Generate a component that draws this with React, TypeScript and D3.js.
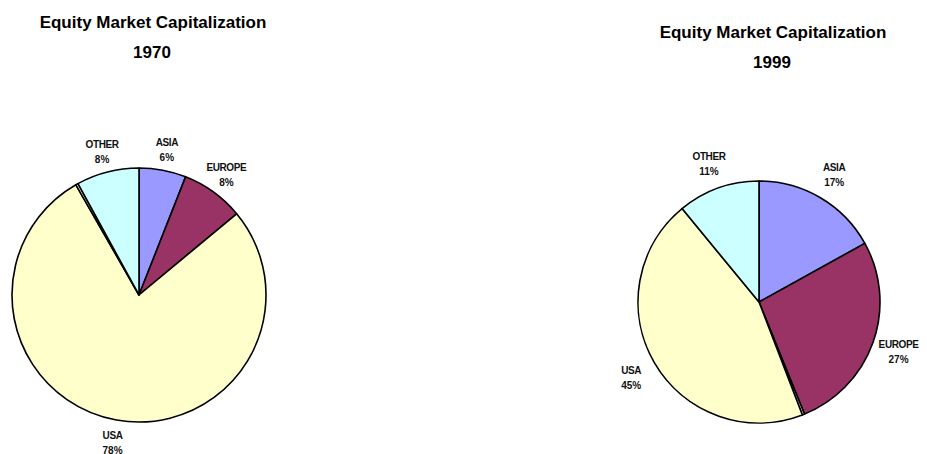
import React, { useEffect, useRef } from "react";
import * as d3 from "d3";

// slices clockwise from 12 o'clock
const labels1970 = ["ASIA", "EUROPE", "USA", "", "OTHER"];
const values1970 = [6, 8, 78, 0.3, 8];
const colors1970 = ["#9999FF", "#993366", "#FFFFCC", "#FFFFFF", "#CCFFFF"];

const labels1999 = ["ASIA", "EUROPE", "", "USA", "OTHER"];
const values1999 = [17, 27, 0.3, 45, 11];
const colors1999 = ["#9999FF", "#993366", "#FFFFFF", "#FFFFCC", "#CCFFFF"];

const titles = ["Equity Market Capitalization", "Equity Market Capitalization"];
const years = ["1970", "1999"];

export default function App() {
  const svgRef = useRef<SVGSVGElement>(null);

  useEffect(() => {
    const w = 927;
    const h = 454;
    const svg = d3.select(svgRef.current)
      .attr("width", w)
      .attr("height", h)
      .style("font-family", "'Liberation Sans', Arial, sans-serif");
    svg.selectAll("*").remove();

    const charts = [
      { labels: labels1970, values: values1970, colors: colors1970, cx: 139, cy: 295, r: 127, lr: 149, tx: 153, ty: 28, title: titles[0], year: years[0] },
      { labels: labels1999, values: values1999, colors: colors1999, cx: 759, cy: 302, r: 121, lr: 148, tx: 773, ty: 38, title: titles[1], year: years[1] },
    ];

    charts.forEach((c) => {
      const total = d3.sum(c.values);
      const pie = d3.pie<number>().sort(null).value((d) => d);
      const arcs = pie(c.values);
      const arc = d3.arc<d3.PieArcDatum<number>>().innerRadius(0).outerRadius(c.r);
      const labelArc = d3.arc<d3.PieArcDatum<number>>().innerRadius(c.lr).outerRadius(c.lr);

      const g = svg.append("g").attr("transform", `translate(${c.cx},${c.cy})`);
      g.selectAll("path")
        .data(arcs)
        .join("path")
        .attr("d", arc)
        .attr("fill", (d, i) => c.colors[i])
        .attr("stroke", "#000")
        .attr("stroke-width", 1.6)
        .attr("stroke-linejoin", "round");

      const lab = g.selectAll("g.lab")
        .data(arcs.filter((d, i) => c.labels[i] !== ""))
        .join("g")
        .attr("class", "lab")
        .attr("transform", (d) => `translate(${labelArc.centroid(d)})`)
        .attr("text-anchor", "middle")
        .style("font-size", "10px")
        .style("font-weight", "bold")
        .attr("fill", "#111");
      lab.append("text")
        .attr("y", -3)
        .attr("letter-spacing", -0.4)
        .text((d) => c.labels[d.index]);
      lab.append("text")
        .attr("y", 12)
        .text((d) => `${Math.round((d.value / total) * 100)}%`);

      const t = svg.append("g")
        .attr("text-anchor", "middle")
        .style("font-size", "17px")
        .style("font-weight", "bold")
        .attr("fill", "#000");
      t.append("text").attr("x", c.tx).attr("y", c.ty).text(c.title);
      t.append("text").attr("x", c.tx - 1).attr("y", c.ty + 30).text(c.year);
    });
  }, []);

  return (
    <div style={{ position: "fixed", left: 0, top: 0, background: "#fff" }}>
      <svg ref={svgRef}></svg>
    </div>
  );
}
